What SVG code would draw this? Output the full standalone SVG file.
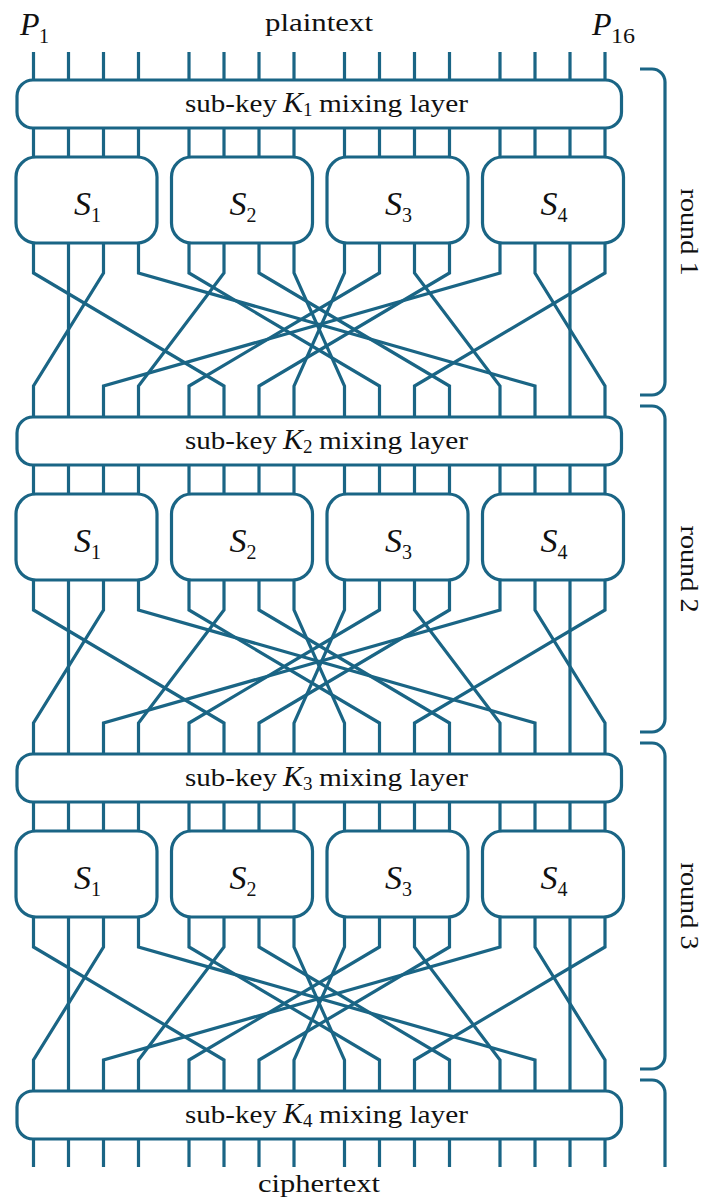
<svg xmlns="http://www.w3.org/2000/svg" width="705" height="1200" viewBox="0 0 705 1200">
  <style>
    .w { fill: none; stroke: #1a6585; stroke-width: 3.2; stroke-linejoin: miter; }
    .box { fill: #ffffff; stroke: #1a6585; stroke-width: 3.2; }
    .br { fill: none; stroke: #1a6585; stroke-width: 3.2; }
    text { font-family: "Liberation Serif", "Times New Roman", serif; fill: #111111; }
    .lbl { font-size: 26px; }
    .it { font-style: italic; }
    .sv { font-style: italic; font-size: 34px; }
    .ss { font-size: 20px; }
  </style>
  <rect width="705" height="1200" fill="#ffffff"/>

  <!-- connectors: input/output bit lines and the bit permutation of each round -->
  <g id="connectors">
    <!-- plaintext bits -->
    <path class="w" d="M33.5,52V82M68.5,52V82M103.5,52V82M138.5,52V82M189,52V82M224,52V82M259,52V82M294,52V82M344.5,52V82M379.5,52V82M414.5,52V82M449.5,52V82M500,52V82M535,52V82M570,52V82M605,52V82"/>
    <!-- round 1 -->
    <g id="perm-1">
      <path class="w" d="M33.5,126V273L224,386V419"/>
      <path class="w" d="M68.5,126V419"/>
      <path class="w" d="M103.5,126V273L33.5,386V419"/>
      <path class="w" d="M138.5,126V273L535,386V419"/>
      <path class="w" d="M189,126V273L379.5,386V419"/>
      <path class="w" d="M224,126V273L138.5,386V419"/>
      <path class="w" d="M259,126V273L449.5,386V419"/>
      <path class="w" d="M294,126V273L344.5,386V419"/>
      <path class="w" d="M344.5,126V273L294,386V419"/>
      <path class="w" d="M379.5,126V273L189,386V419"/>
      <path class="w" d="M414.5,126V273L500,386V419"/>
      <path class="w" d="M449.5,126V273L259,386V419"/>
      <path class="w" d="M500,126V273L103.5,386V419"/>
      <path class="w" d="M535,126V273L605,386V419"/>
      <path class="w" d="M570,126V419"/>
      <path class="w" d="M605,126V273L414.5,386V419"/>
    </g>
    <!-- round 2 -->
    <g id="perm-2">
      <path class="w" d="M33.5,463V610L224,723V756"/>
      <path class="w" d="M68.5,463V756"/>
      <path class="w" d="M103.5,463V610L33.5,723V756"/>
      <path class="w" d="M138.5,463V610L535,723V756"/>
      <path class="w" d="M189,463V610L379.5,723V756"/>
      <path class="w" d="M224,463V610L138.5,723V756"/>
      <path class="w" d="M259,463V610L449.5,723V756"/>
      <path class="w" d="M294,463V610L344.5,723V756"/>
      <path class="w" d="M344.5,463V610L294,723V756"/>
      <path class="w" d="M379.5,463V610L189,723V756"/>
      <path class="w" d="M414.5,463V610L500,723V756"/>
      <path class="w" d="M449.5,463V610L259,723V756"/>
      <path class="w" d="M500,463V610L103.5,723V756"/>
      <path class="w" d="M535,463V610L605,723V756"/>
      <path class="w" d="M570,463V756"/>
      <path class="w" d="M605,463V610L414.5,723V756"/>
    </g>
    <!-- round 3 -->
    <g id="perm-3">
      <path class="w" d="M33.5,800V947L224,1060V1093"/>
      <path class="w" d="M68.5,800V1093"/>
      <path class="w" d="M103.5,800V947L33.5,1060V1093"/>
      <path class="w" d="M138.5,800V947L535,1060V1093"/>
      <path class="w" d="M189,800V947L379.5,1060V1093"/>
      <path class="w" d="M224,800V947L138.5,1060V1093"/>
      <path class="w" d="M259,800V947L449.5,1060V1093"/>
      <path class="w" d="M294,800V947L344.5,1060V1093"/>
      <path class="w" d="M344.5,800V947L294,1060V1093"/>
      <path class="w" d="M379.5,800V947L189,1060V1093"/>
      <path class="w" d="M414.5,800V947L500,1060V1093"/>
      <path class="w" d="M449.5,800V947L259,1060V1093"/>
      <path class="w" d="M500,800V947L103.5,1060V1093"/>
      <path class="w" d="M535,800V947L605,1060V1093"/>
      <path class="w" d="M570,800V1093"/>
      <path class="w" d="M605,800V947L414.5,1060V1093"/>
    </g>
    <!-- ciphertext bits -->
    <path class="w" d="M33.5,1137V1167M68.5,1137V1167M103.5,1137V1167M138.5,1137V1167M189,1137V1167M224,1137V1167M259,1137V1167M294,1137V1167M344.5,1137V1167M379.5,1137V1167M414.5,1137V1167M449.5,1137V1167M500,1137V1167M535,1137V1167M570,1137V1167M605,1137V1167"/>
  </g>

  <!-- sub-key mixing layers -->
  <g id="mix-1">
    <rect class="box" x="17" y="80" width="604.5" height="48" rx="16"/>
    <text class="lbl" y="112"><tspan x="185" textLength="92" lengthAdjust="spacingAndGlyphs">sub-key</tspan><tspan x="283" class="it" font-size="30">K</tspan><tspan x="303" dy="4" font-size="19">1</tspan><tspan x="319" dy="-4" textLength="149" lengthAdjust="spacingAndGlyphs">mixing layer</tspan></text>
  </g>
  <g id="mix-2">
    <rect class="box" x="17" y="417" width="604.5" height="48" rx="16"/>
    <text class="lbl" y="449"><tspan x="185" textLength="92" lengthAdjust="spacingAndGlyphs">sub-key</tspan><tspan x="283" class="it" font-size="30">K</tspan><tspan x="303" dy="4" font-size="19">2</tspan><tspan x="319" dy="-4" textLength="149" lengthAdjust="spacingAndGlyphs">mixing layer</tspan></text>
  </g>
  <g id="mix-3">
    <rect class="box" x="17" y="754" width="604.5" height="48" rx="16"/>
    <text class="lbl" y="786"><tspan x="185" textLength="92" lengthAdjust="spacingAndGlyphs">sub-key</tspan><tspan x="283" class="it" font-size="30">K</tspan><tspan x="303" dy="4" font-size="19">3</tspan><tspan x="319" dy="-4" textLength="149" lengthAdjust="spacingAndGlyphs">mixing layer</tspan></text>
  </g>
  <g id="mix-4">
    <rect class="box" x="17" y="1091" width="604.5" height="48" rx="16"/>
    <text class="lbl" y="1123"><tspan x="185" textLength="92" lengthAdjust="spacingAndGlyphs">sub-key</tspan><tspan x="283" class="it" font-size="30">K</tspan><tspan x="303" dy="4" font-size="19">4</tspan><tspan x="319" dy="-4" textLength="149" lengthAdjust="spacingAndGlyphs">mixing layer</tspan></text>
  </g>

  <!-- S-boxes, round 1 -->
  <g id="s1-r1"><rect class="box" x="16" y="157" width="141" height="86" rx="20"/><text y="215"><tspan x="74" class="sv">S</tspan><tspan x="91" dy="7" class="ss">1</tspan></text></g>
  <g id="s2-r1"><rect class="box" x="171.5" y="157" width="141" height="86" rx="20"/><text y="215"><tspan x="229.5" class="sv">S</tspan><tspan x="246.5" dy="7" class="ss">2</tspan></text></g>
  <g id="s3-r1"><rect class="box" x="327" y="157" width="141" height="86" rx="20"/><text y="215"><tspan x="385" class="sv">S</tspan><tspan x="402" dy="7" class="ss">3</tspan></text></g>
  <g id="s4-r1"><rect class="box" x="482.5" y="157" width="141" height="86" rx="20"/><text y="215"><tspan x="540.5" class="sv">S</tspan><tspan x="557.5" dy="7" class="ss">4</tspan></text></g>

  <!-- S-boxes, round 2 -->
  <g id="s1-r2"><rect class="box" x="16" y="494" width="141" height="86" rx="20"/><text y="552"><tspan x="74" class="sv">S</tspan><tspan x="91" dy="7" class="ss">1</tspan></text></g>
  <g id="s2-r2"><rect class="box" x="171.5" y="494" width="141" height="86" rx="20"/><text y="552"><tspan x="229.5" class="sv">S</tspan><tspan x="246.5" dy="7" class="ss">2</tspan></text></g>
  <g id="s3-r2"><rect class="box" x="327" y="494" width="141" height="86" rx="20"/><text y="552"><tspan x="385" class="sv">S</tspan><tspan x="402" dy="7" class="ss">3</tspan></text></g>
  <g id="s4-r2"><rect class="box" x="482.5" y="494" width="141" height="86" rx="20"/><text y="552"><tspan x="540.5" class="sv">S</tspan><tspan x="557.5" dy="7" class="ss">4</tspan></text></g>

  <!-- S-boxes, round 3 -->
  <g id="s1-r3"><rect class="box" x="16" y="831" width="141" height="86" rx="20"/><text y="889"><tspan x="74" class="sv">S</tspan><tspan x="91" dy="7" class="ss">1</tspan></text></g>
  <g id="s2-r3"><rect class="box" x="171.5" y="831" width="141" height="86" rx="20"/><text y="889"><tspan x="229.5" class="sv">S</tspan><tspan x="246.5" dy="7" class="ss">2</tspan></text></g>
  <g id="s3-r3"><rect class="box" x="327" y="831" width="141" height="86" rx="20"/><text y="889"><tspan x="385" class="sv">S</tspan><tspan x="402" dy="7" class="ss">3</tspan></text></g>
  <g id="s4-r3"><rect class="box" x="482.5" y="831" width="141" height="86" rx="20"/><text y="889"><tspan x="540.5" class="sv">S</tspan><tspan x="557.5" dy="7" class="ss">4</tspan></text></g>

  <!-- input / output labels -->
  <g id="labels">
    <text y="35"><tspan x="20" class="it" font-size="32">P</tspan><tspan x="39" dy="8" font-size="20">1</tspan></text>
    <text y="35"><tspan x="592" class="it" font-size="32">P</tspan><tspan x="611" dy="8" font-size="20" textLength="24" lengthAdjust="spacingAndGlyphs">16</tspan></text>
    <text class="lbl" x="265" y="31" textLength="108" lengthAdjust="spacingAndGlyphs">plaintext</text>
    <text class="lbl" x="258" y="1192" textLength="122" lengthAdjust="spacingAndGlyphs">ciphertext</text>
  </g>

  <!-- round braces -->
  <g id="round-1">
    <path class="br" d="M640,69H652A13,13 0 0 1 665,82V382A13,13 0 0 1 652,395H640"/>
    <text class="lbl" transform="translate(681,232) rotate(90)" text-anchor="middle" textLength="87" lengthAdjust="spacingAndGlyphs">round 1</text>
  </g>
  <g id="round-2">
    <path class="br" d="M640,406H652A13,13 0 0 1 665,419V719A13,13 0 0 1 652,732H640"/>
    <text class="lbl" transform="translate(681,569) rotate(90)" text-anchor="middle" textLength="87" lengthAdjust="spacingAndGlyphs">round 2</text>
  </g>
  <g id="round-3">
    <path class="br" d="M640,743H652A13,13 0 0 1 665,756V1056A13,13 0 0 1 652,1069H640"/>
    <text class="lbl" transform="translate(681,906) rotate(90)" text-anchor="middle" textLength="87" lengthAdjust="spacingAndGlyphs">round 3</text>
  </g>
  <g id="round-4">
    <path class="br" d="M640,1080H652A13,13 0 0 1 665,1093V1167"/>
  </g>
</svg>
